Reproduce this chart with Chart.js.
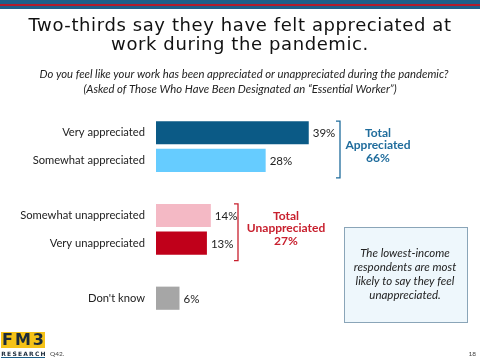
<!DOCTYPE html>
<html>
<head>
<meta charset="utf-8">
<script src="https://cdn.jsdelivr.net/npm/chart.js@4"></script>
<style>
html, body { margin: 0; padding: 0; background: #fff; }
#wrap { position: relative; width: 480px; height: 360px; }
</style>
</head>
<body>
<div id="wrap"><canvas id="myChart" width="480" height="360"></canvas></div>
<script>
// data (empty strings are spacer rows)
const categories = ['Very appreciated', 'Somewhat appreciated', '', 'Somewhat unappreciated', 'Very unappreciated', '', "Don't know"];
const values = [39, 28, null, 14, 13, null, 6];
const barColors = ['#0b5a86', '#66ccff', '#fff', '#f4b9c5', '#c0001a', '#fff', '#a6a6a6'];
const groupTotals = [['Total', 'Appreciated', '66%'], ['Total', 'Unappreciated', '27%']];

const titleLines = ['Two-thirds say they have felt appreciated at', 'work during the pandemic.'];
const subLines = ['Do you feel like your work has been appreciated or unappreciated during the pandemic?',
  '(Asked of Those Who Have Been Designated an \u201cEssential Worker\u201d)'];
const noteLines = ['The lowest-income', 'respondents are most', 'likely to say they feel', 'unappreciated.'];

const body = 'Lato, "Open Sans", sans-serif';

// slide decorations: band, titles, brackets, callout box, logo
const slidePlugin = {
  id: 'slide',
  beforeDraw(chart) {
    const c = chart.ctx;
    c.save();
    c.fillStyle = '#fff';
    c.fillRect(0, 0, chart.width, chart.height);
    c.fillStyle = '#1d5f8a';
    c.fillRect(0, 0, 480, 9);
    c.fillStyle = '#b01c2e';
    c.fillRect(0, 4, 480, 2);

    c.fillStyle = '#111';
    c.textAlign = 'center';
    c.textBaseline = 'middle';
    c.font = '18px "DejaVu Sans"';
    c.letterSpacing = '0.6px';
    c.fillText(titleLines[0], 240, 26);
    c.fillText(titleLines[1], 240, 45);
    c.letterSpacing = '0px';

    c.font = 'italic 11.3px ' + body;
    c.fillStyle = '#222';
    c.fillText(subLines[0], 244, 74);
    c.fillText(subLines[1], 240, 89);
    c.restore();
  },
  afterDatasetsDraw(chart) {
    const c = chart.ctx;
    const bars = chart.getDatasetMeta(0).data;
    c.save();
    // value labels
    c.font = '11.5px ' + body;
    c.fillStyle = '#222';
    c.textBaseline = 'middle';
    c.textAlign = 'left';
    values.forEach((v, i) => {
      if (v === null) return;
      c.fillText(v + '%', bars[i].x + 4, bars[i].y + 1);
    });

    // brackets + totals
    const bracket = (i0, i1, x, col, tx, lines) => {
      const top = bars[i0].y - bars[i0].height / 2;
      const bot = bars[i1].y + bars[i1].height / 2 + 6;
      c.strokeStyle = col;
      c.lineWidth = 1.3;
      c.beginPath();
      c.moveTo(x - 4, top);
      c.lineTo(x, top);
      c.lineTo(x, bot);
      c.lineTo(x - 4, bot);
      c.stroke();
      c.fillStyle = col;
      c.font = 'bold 12px ' + body;
      c.textAlign = 'center';
      const mid = (top + bot) / 2 - 4;
      lines.forEach((t, k) => c.fillText(t, tx, mid + (k - 1) * 12.5));
    };
    bracket(0, 1, 340, '#1f6c9c', 378, groupTotals[0]);
    bracket(3, 4, 238, '#c8202e', 286, groupTotals[1]);

    // callout box
    c.fillStyle = '#eef7fc';
    c.fillRect(344, 227, 123, 95);
    c.strokeStyle = '#8aa5b8';
    c.lineWidth = 1;
    c.strokeRect(344.5, 227.5, 123, 95);
    c.fillStyle = '#222';
    c.font = 'italic 11.5px ' + body;
    c.textAlign = 'center';
    noteLines.forEach((t, k) => c.fillText(t, 405, 253 + k * 14));

    // logo + footer
    c.fillStyle = '#f5c218';
    c.fillRect(1, 332, 44, 16);
    c.fillStyle = '#1b2a3a';
    c.font = 'bold 16px "DejaVu Sans"';
    c.letterSpacing = '2px';
    c.fillText('FM3', 24, 341);
    c.font = 'bold 6px "DejaVu Sans"';
    c.letterSpacing = '1.2px';
    c.fillText('RESEARCH', 24, 354);
    c.letterSpacing = '0px';
    c.fillStyle = '#1d5f8a';
    c.fillRect(1, 357, 44, 1);
    c.fillStyle = '#444';
    c.font = '6.5px ' + body;
    c.textAlign = 'left';
    c.fillText('Q42.', 50, 354);
    c.textAlign = 'right';
    c.fillText('18', 476, 354);
    c.restore();
  }
};

const ctx = document.getElementById('myChart');
new Chart(ctx, {
  type: 'bar',
  data: {
    labels: categories,
    datasets: [{
      data: values,
      backgroundColor: barColors,
      barPercentage: 0.84,
      categoryPercentage: 1
    }]
  },
  options: {
    indexAxis: 'y',
    responsive: false,
    animation: false,
    layout: { padding: { left: 0, right: 89, top: 119, bottom: 48 } },
    plugins: { legend: { display: false }, tooltip: { enabled: false } },
    scales: {
      x: { display: false, min: 0, max: 60 },
      y: {
        grid: { display: false },
        border: { display: false },
        ticks: { color: '#222', font: { family: body, size: 11.2 }, padding: 3 },
        afterFit(scale) { scale.width = 156; }
      }
    }
  },
  plugins: [slidePlugin]
});
</script>
</body>
</html>
